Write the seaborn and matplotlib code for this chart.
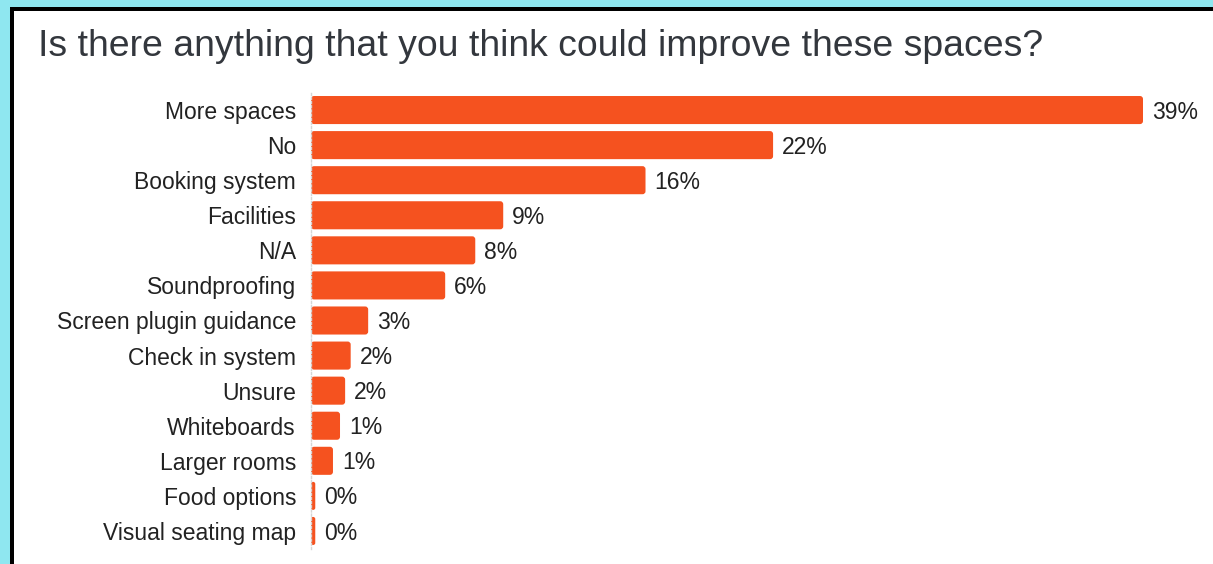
import matplotlib
matplotlib.use("Agg")
import matplotlib.pyplot as plt
import seaborn as sns
import pandas as pd
from matplotlib.patches import FancyBboxPatch, Rectangle

# Survey answers and their share of responses (%)
categories = [
    "More spaces", "No", "Booking system", "Facilities", "N/A", "Soundproofing",
    "Screen plugin guidance", "Check in system", "Unsure", "Whiteboards",
    "Larger rooms", "Food options", "Visual seating map",
]
shares = [39.0, 21.66, 15.68, 9.01, 7.70, 6.29, 2.68, 1.86, 1.60, 1.36, 1.03, 0.2, 0.2]
value_labels = [f"{v:.0f}%" for v in shares]
title = "Is there anything that you think could improve these spaces?"

BAR = "#f5521f"
FRAME_BG = "#8fe7f0"
TEXT = "#222222"

W, H, DPI = 1213, 564, 100
sns.set_theme(style="white")
plt.rcParams["font.family"] = ["Liberation Sans", "DejaVu Sans"]

fig = plt.figure(figsize=(W / DPI, H / DPI), dpi=DPI)
fig.patch.set_facecolor(FRAME_BG)
# window frame: black edge with a white panel inside
fig.add_artist(Rectangle((10 / W, 0), 1, 1 - 7 / H, transform=fig.transFigure,
                         facecolor="black", edgecolor="none", zorder=-2))
fig.add_artist(Rectangle((14 / W, 0), 1, 1 - 11 / H, transform=fig.transFigure,
                         facecolor="white", edgecolor="none", zorder=-1))

# plot area geometry in pixels
x0_px, xmax_px = 311, 1143
right_px = 1205
top_px, bottom_px = 92.5, 548.5
px_per_unit = (xmax_px - x0_px) / max(shares)
row_px = (bottom_px - top_px) / len(categories)

ax = fig.add_axes([x0_px / W, (H - bottom_px) / H,
                   (right_px - x0_px) / W, (bottom_px - top_px) / H])
ax.set_facecolor("none")

df = pd.DataFrame({"answer": categories, "share": shares})
sns.barplot(data=df, y="answer", x="share", color=BAR, saturation=1,
            width=0.8, orient="h", ax=ax)

ax.set_xlim(0, (right_px - x0_px) / px_per_unit)
ax.set_ylim(len(categories) - 0.5, -0.5)

texts = ax.bar_label(ax.containers[0], labels=value_labels, padding=6.5,
                     fontsize=16.5, color=TEXT)
for t in texts:
    # nudge the percentages down a touch so they sit on the bar's midline
    x_off, y_off = t.xyann
    t.xyann = (x_off, y_off - 1.5)

# swap the plain rectangles for slightly rounded ones
for bar in list(ax.patches):
    x, y = bar.get_x(), bar.get_y()
    w, h = bar.get_width(), bar.get_height()
    r = min(3 / px_per_unit, w / 2)
    rounded = FancyBboxPatch((x, y), w, h,
                             boxstyle=f"round,pad=0,rounding_size={r}",
                             mutation_aspect=px_per_unit / row_px,
                             facecolor=BAR, edgecolor="none", zorder=2)
    bar.remove()
    ax.add_patch(rounded)

for side in ("top", "right", "bottom"):
    ax.spines[side].set_visible(False)
ax.spines["left"].set_color("#d6d6d6")
ax.spines["left"].set_linewidth(1.0)
ax.spines["left"].set_linestyle((0, (1.5, 1.5)))

ax.set_xlabel("")
ax.set_ylabel("")
ax.set_xticks([])
ax.tick_params(axis="y", length=0, pad=10.8, labelsize=16.5, labelcolor=TEXT)

fig.text(38 / W, 1 - 56 / H, title, fontsize=26.9, color="#33373d", va="baseline")

fig.savefig("out.png", dpi=DPI)
